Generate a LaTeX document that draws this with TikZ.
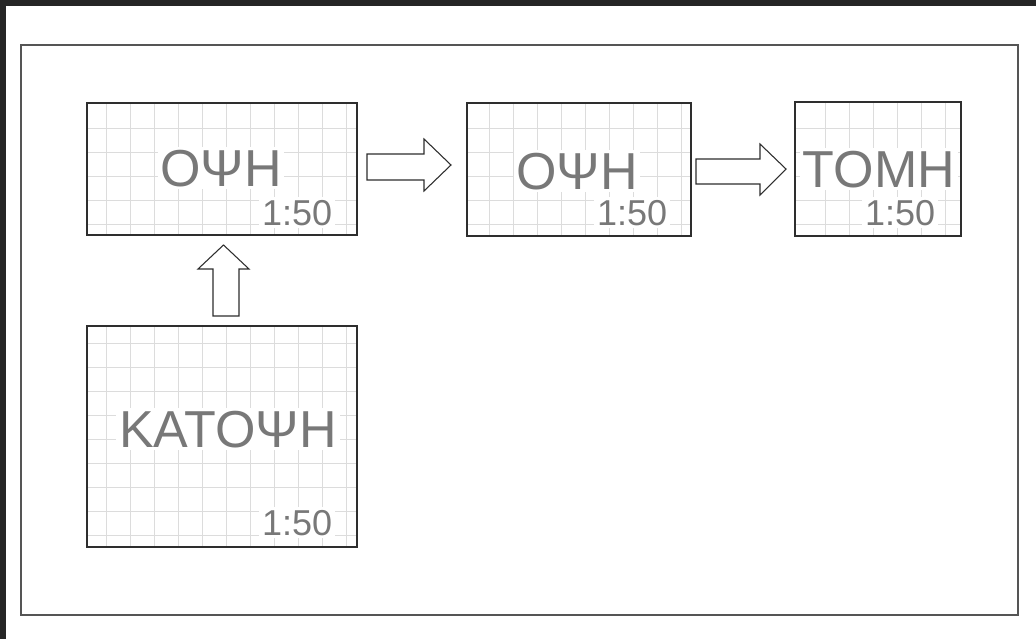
\documentclass[tikz,border=0pt]{standalone}
\usepackage{fontspec}
\setmainfont{Liberation Sans}
\definecolor{bgdark}{HTML}{262626}
\definecolor{framec}{HTML}{555555}
\definecolor{gridc}{HTML}{DCDCDC}
\definecolor{txtc}{HTML}{787878}
\definecolor{boxc}{HTML}{2E2E2E}
\tikzset{
  frameline/.style={draw=framec, line width=1.1pt},
  gridline/.style={draw=gridc, line width=0.7pt},
  gbox/.style={draw=boxc, line width=0.9pt, inner sep=0pt, outer sep=0pt},
  bigtxt/.style={fill=white, text=txtc, inner sep=2pt, font=\fontsize{39pt}{39pt}\selectfont},
  scaletxt/.style={fill=white, text=txtc, inner sep=2pt, font=\fontsize{27pt}{27pt}\selectfont, anchor=base east},
  blockarrow/.style={draw=boxc, line width=0.8pt, fill=white, line join=miter}
}
\begin{document}
\begin{tikzpicture}[x=0.75pt,y=-0.75pt]
\useasboundingbox (0,0) rectangle (1036,639);
\fill[bgdark] (0,0) rectangle (1036,639);
\fill[white] (6,6) rectangle (1036,639);
\draw[frameline] (21,45) rectangle (1018,615);

% grids
\begin{scope}
\clip (87,103) rectangle (357,235);
\foreach \i in {0,1,...,10} \draw[gridline] ({106+24*\i},103) -- ({106+24*\i},235);
\foreach \i in {0,1,...,4} \draw[gridline] (87,{128+24*\i}) -- (357,{128+24*\i});
\end{scope}
\begin{scope}
\clip (467,103) rectangle (691,236);
\foreach \i in {0,1,...,8} \draw[gridline] ({489+24*\i},103) -- ({489+24*\i},236);
\foreach \i in {0,1,...,4} \draw[gridline] (467,{128+24*\i}) -- (691,{128+24*\i});
\end{scope}
\begin{scope}
\clip (795,102) rectangle (961,236);
\foreach \i in {0,1,...,5} \draw[gridline] ({825+24*\i},102) -- ({825+24*\i},236);
\foreach \i in {0,1,...,4} \draw[gridline] (795,{128+24*\i}) -- (961,{128+24*\i});
\end{scope}
\begin{scope}
\clip (87,326) rectangle (357,547);
\foreach \i in {0,1,...,10} \draw[gridline] ({106+24*\i},326) -- ({106+24*\i},547);
\foreach \i in {0,1,...,8} \draw[gridline] (87,{343+24*\i}) -- (357,{343+24*\i});
\end{scope}

% texts
\node[bigtxt, anchor=base] (t1) at (221,186) {ΟΨΗ};
\node[scaletxt] (s1) at (335,225) {1:50};
\node[bigtxt, anchor=base] (t2) at (577,189) {ΟΨΗ};
\node[scaletxt] (s2) at (670,225) {1:50};
\node[bigtxt, anchor=base] (t3) at (879,187) {ΤΟΜΗ};
\node[scaletxt] (s3) at (938,225) {1:50};
\node[bigtxt, anchor=base] (t4) at (228,447) {ΚΑΤΟΨΗ};
\node[scaletxt] (s4) at (335,535) {1:50};

% boxes
\node[gbox, minimum width={270*0.75pt}, minimum height={132*0.75pt}] (v1) at (222,169) {};
\node[gbox, minimum width={224*0.75pt}, minimum height={133*0.75pt}] (v2) at (579,169.5) {};
\node[gbox, minimum width={166*0.75pt}, minimum height={134*0.75pt}] (v3) at (878,169) {};
\node[gbox, minimum width={270*0.75pt}, minimum height={221*0.75pt}] (v4) at (222,436.5) {};

% block arrows
\draw[blockarrow] (213,316) -- (213,269) -- (198,269) -- (223.5,245) -- (249,269) -- (239,269) -- (239,316) -- cycle;
\draw[blockarrow] (367,154) -- (424,154) -- (424,139) -- (451,165) -- (424,191) -- (424,180) -- (367,180) -- cycle;
\draw[blockarrow] (696,159) -- (760,159) -- (760,144) -- (786,169) -- (760,195) -- (760,184) -- (696,184) -- cycle;
\end{tikzpicture}
\end{document}
